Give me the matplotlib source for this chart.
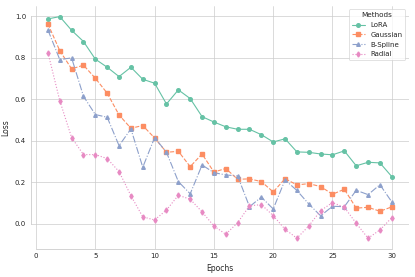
import numpy as np
import matplotlib
matplotlib.use("Agg")
import matplotlib.pyplot as plt
import seaborn as sns


epochs = np.arange(1, 31)

lora = [0.988, 0.999, 0.933, 0.879, 0.794, 0.755, 0.710, 0.755, 0.697, 0.678,
        0.578, 0.646, 0.604, 0.517, 0.491, 0.468, 0.456, 0.456, 0.430, 0.395,
        0.410, 0.347, 0.345, 0.337, 0.333, 0.352, 0.280, 0.297, 0.294, 0.228]

gaussian = [0.964, 0.835, 0.747, 0.765, 0.702, 0.630, 0.525, 0.461, 0.474, 0.414,
            0.345, 0.350, 0.276, 0.337, 0.250, 0.267, 0.215, 0.217, 0.204, 0.154,
            0.218, 0.188, 0.194, 0.180, 0.143, 0.167, 0.076, 0.080, 0.061, 0.082]

bspline = [0.935, 0.792, 0.800, 0.615, 0.527, 0.514, 0.377, 0.458, 0.273, 0.416,
           0.345, 0.204, 0.145, 0.284, 0.247, 0.236, 0.231, 0.083, 0.129, 0.072,
           0.212, 0.161, 0.096, 0.039, 0.085, 0.083, 0.162, 0.141, 0.189, 0.106]

radial = [0.826, 0.594, 0.416, 0.334, 0.334, 0.315, 0.252, 0.136, 0.034, 0.019,
          0.067, 0.138, 0.119, 0.058, -0.010, -0.050, 0.006, 0.087, 0.093, 0.040,
          -0.026, -0.069, -0.010, 0.064, 0.103, 0.080, 0.003, -0.069, -0.029, 0.030]

series = [
    ("LoRA", lora, "-", "o"),
    ("Gaussian", gaussian, "--", "s"),
    ("B-Spline", bspline, "-.", "^"),
    ("Radial", radial, ":", "d"),
]


def main():
    sns.set_theme(style="whitegrid", palette="Set2")
    plt.rcParams.update({
        "font.family": ["DejaVu Sans"],
        "font.size": 5,
        "axes.labelsize": 5.5,
        "xtick.labelsize": 5,
        "ytick.labelsize": 5,
        "legend.fontsize": 5,
        "legend.title_fontsize": 5.2,
        "grid.linewidth": 0.5,
        "axes.linewidth": 0.6,
    })

    fig, ax = plt.subplots(figsize=(4.15, 2.77), dpi=100)
    colors = sns.color_palette("Set2", 4)
    for (name, vals, ls, mk), col in zip(series, colors):
        ax.plot(epochs, vals, linestyle=ls, marker=mk, color=col,
                linewidth=0.8, markersize=2.6, label=name)

    ax.set_xlabel("Epochs")
    ax.set_ylabel("Loss")
    ax.xaxis.set_label_coords(0.5, -0.062)
    ax.yaxis.set_label_coords(-0.055, 0.5)
    ax.set_xticks(np.arange(0, 31, 5))
    ax.set_yticks(np.arange(0.0, 1.01, 0.2))
    ax.tick_params(axis="both", length=0)
    ax.tick_params(axis="y", pad=3.4)
    ax.tick_params(axis="x", pad=3.0)

    leg = ax.legend(title="Methods", loc="upper right", frameon=True,
                    handlelength=2.0, handletextpad=0.7, borderpad=0.4,
                    labelspacing=0.55, borderaxespad=0.55)
    leg.get_frame().set_linewidth(0.5)

    sns.despine(ax=ax, trim=True)
    fig.subplots_adjust(left=0.074, right=0.9855, bottom=0.10, top=0.98)
    fig.savefig("out.png", dpi=100)
    plt.close(fig)


if __name__ == "__main__":
    main()
